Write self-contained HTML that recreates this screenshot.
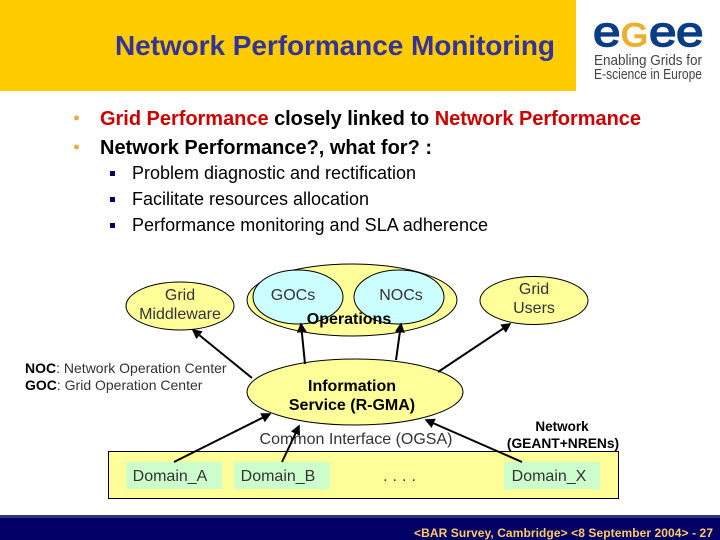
<!DOCTYPE html>
<html><head><meta charset="utf-8"><style>
html,body{margin:0;padding:0;background:#fff;width:720px;height:540px;overflow:hidden}
svg{display:block}
text{font-family:"Liberation Sans",sans-serif}
</style></head><body>
<svg width="720" height="540" viewBox="0 0 720 540" xmlns="http://www.w3.org/2000/svg">
<defs><marker id="a" markerWidth="5" markerHeight="5" refX="4.2" refY="2.5" orient="auto"><path d="M0,0L5,2.5L0,5Z" fill="#000"/></marker></defs>
<rect x="0" y="0" width="576" height="91" fill="#FFCC00"/>
<text x="115" y="55" font-size="28" font-weight="bold" fill="#333399" textLength="440" lengthAdjust="spacing">Network Performance Monitoring</text>

<text x="593" y="46" font-size="42" fill="#0B3C86" stroke="#0B3C86" stroke-width="1.5" textLength="27.500" lengthAdjust="spacingAndGlyphs">e</text>
<text x="621" y="46" font-size="32" fill="#EDB02E" stroke="#EDB02E" stroke-width="1.5" textLength="27" lengthAdjust="spacingAndGlyphs">G</text>
<text x="649" y="46" font-size="42" fill="#0B3C86" stroke="#0B3C86" stroke-width="1.5" textLength="27.500" lengthAdjust="spacingAndGlyphs">e</text>
<text x="676" y="46" font-size="42" fill="#0B3C86" stroke="#0B3C86" stroke-width="1.5" textLength="27.500" lengthAdjust="spacingAndGlyphs">e</text>
<text x="594" y="65" font-size="15" fill="#444" textLength="108" lengthAdjust="spacingAndGlyphs">Enabling Grids for</text>
<text x="594" y="79" font-size="15" fill="#444" textLength="108" lengthAdjust="spacingAndGlyphs">E-science in Europe</text>

<circle cx="76.500" cy="118" r="2.500" fill="#E0B040"/>
<circle cx="76.500" cy="147" r="2.500" fill="#E0B040"/>
<text x="100" y="125" font-size="20" font-weight="bold" textLength="541" lengthAdjust="spacing"><tspan fill="#CC0000">Grid Performance</tspan><tspan fill="#000"> closely linked to </tspan><tspan fill="#CC0000">Network Performance</tspan></text>
<text x="100" y="154" font-size="20" font-weight="bold" fill="#000" textLength="332" lengthAdjust="spacing">Network Performance?, what for? :</text>

<rect x="110" y="171" width="5" height="5" fill="#000066"/>
<rect x="110" y="197" width="5" height="5" fill="#000066"/>
<rect x="110" y="223" width="5" height="5" fill="#000066"/>
<text x="132" y="179" font-size="18" fill="#000" textLength="284" lengthAdjust="spacing">Problem diagnostic and rectification</text>
<text x="132" y="205" font-size="18" fill="#000" textLength="237" lengthAdjust="spacing">Facilitate resources allocation</text>
<text x="132" y="231" font-size="18" fill="#000" textLength="356" lengthAdjust="spacing">Performance monitoring and SLA adherence</text>

<g stroke="#000" stroke-width="1">
<ellipse cx="180" cy="306" rx="54" ry="24" fill="#FFFF99"/>
<ellipse cx="352" cy="300" rx="105" ry="36" fill="#FFFF99"/>
<ellipse cx="298" cy="297" rx="45" ry="27" fill="#CCFFFF"/>
<ellipse cx="399" cy="297" rx="45" ry="27" fill="#CCFFFF"/>
<ellipse cx="534" cy="300.500" rx="54" ry="24" fill="#FFFF99"/>
<ellipse cx="355" cy="392" rx="108" ry="33" fill="#FFFF99"/>
<rect x="108.500" y="451.500" width="510" height="47" fill="#FFFF99"/>
</g>
<rect x="126" y="462" width="96" height="27" fill="#CCFFCC"/>
<rect x="234" y="462" width="96" height="27" fill="#CCFFCC"/>
<rect x="504" y="462" width="96" height="27" fill="#CCFFCC"/>

<g font-size="16" fill="#333" text-anchor="middle">
<text x="180" y="300">Grid</text>
<text x="180" y="319">Middleware</text>
<text x="293" y="300">GOCs</text>
<text x="401" y="300">NOCs</text>
<text x="534" y="294">Grid</text>
<text x="534" y="313">Users</text>
<text x="356" y="444">Common Interface (OGSA)</text>
<text x="170" y="481">Domain_A</text>
<text x="278" y="481">Domain_B</text>
<text x="549" y="481">Domain_X</text>
<text x="402" y="481" letter-spacing="5">....</text>
</g>
<g font-size="16" font-weight="bold" fill="#000" text-anchor="middle">
<text x="349" y="324">Operations</text>
<text x="352" y="391">Information</text>
<text x="352" y="410">Service (R-GMA)</text>
</g>
<text x="562" y="431" font-size="13.500" font-weight="bold" fill="#000" text-anchor="middle">Network</text>
<text x="563" y="448" font-size="13.800" font-weight="bold" fill="#000" text-anchor="middle">(GEANT+NRENs)</text>

<text x="25" y="373" font-size="14" fill="#333"><tspan font-weight="bold" fill="#000">NOC</tspan>: Network Operation Center</text>
<text x="25" y="390" font-size="14" fill="#333"><tspan font-weight="bold" fill="#000">GOC</tspan>: Grid Operation Center</text>

<g stroke="#000" stroke-width="2" fill="none">
<line x1="252" y1="378" x2="193" y2="330" marker-end="url(#a)"/>
<line x1="305" y1="364" x2="301" y2="324" marker-end="url(#a)"/>
<line x1="396" y1="360" x2="401" y2="324" marker-end="url(#a)"/>
<line x1="438" y1="372" x2="510" y2="324" marker-end="url(#a)"/>
<line x1="174" y1="462" x2="270" y2="414" marker-end="url(#a)"/>
<line x1="282" y1="462" x2="299" y2="426" marker-end="url(#a)"/>
<line x1="522" y1="462" x2="426" y2="420" marker-end="url(#a)"/>
</g>

<rect x="0" y="515" width="720" height="25" fill="#000066"/>
<rect x="0" y="515" width="720" height="3" fill="#333377"/>
<text x="414" y="537" font-size="12" font-weight="bold" fill="#FFCC66" textLength="299" lengthAdjust="spacing">&lt;BAR Survey, Cambridge&gt; &lt;8 September 2004&gt;  - 27</text>
</svg>
</body></html>
